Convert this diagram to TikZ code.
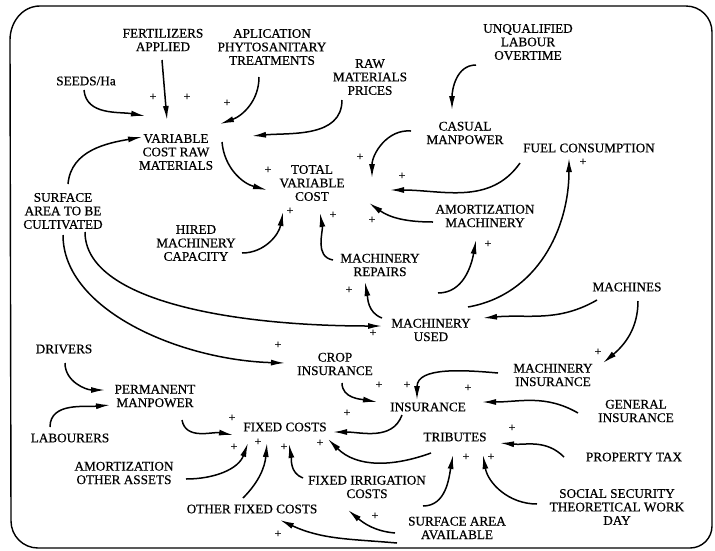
\documentclass[tikz,border=0pt]{standalone}
\usepackage{fontspec}
\setmainfont[FakeBold=0.6,BoldFont={Liberation Serif}]{Liberation Serif}
\newfontfamily\labfont[FakeBold=0.6]{Liberation Serif}
\usetikzlibrary{arrows.meta,calc}
\begin{document}
\begin{tikzpicture}[x=1pt,y=1pt,
  lab/.style={align=center,inner sep=0pt,font=\labfont\fontsize{13.2}{13.5}\selectfont},
  arr/.style={line width=1.5pt,-{Latex[length=14pt,width=6pt]}},
  pl/.style={inner sep=0pt,font=\labfont\fontsize{12}{12}\selectfont}]
\useasboundingbox (0,0) rectangle (715,-550);
% frame
\draw[line width=1.4pt] (10,-40) to[out=90,in=180] (40,-6) -- (686,-6)
  to[out=0,in=90] (712,-32) -- (712,-526) to[out=-90,in=0] (690,-548)
  -- (38,-548) to[out=180,in=-90] (11,-521) -- cycle;
% nodes
\node[lab] (seeds) at (86,-81) {SEEDS/Ha};
\node[lab] (fert) at (163,-40) {FERTILIZERS\\APPLIED};
\node[lab] (apl) at (272,-47) {APLICATION\\PHYTOSANITARY\\TREATMENTS};
\node[lab] (rawp) at (370,-77) {RAW\\MATERIALS\\PRICES};
\node[lab] (unq) at (528,-42) {UNQUALIFIED\\LABOUR\\OVERTIME};
\node[lab] (casual) at (465,-133) {CASUAL\\MANPOWER};
\node[lab] (fuel) at (589,-148) {FUEL CONSUMPTION};
\node[lab] (vcrm) at (176,-152) {VARIABLE\\COST RAW\\MATERIALS};
\node[lab] (tvc) at (312,-183) {TOTAL\\VARIABLE\\COST};
\node[lab] (sac) at (63,-211) {SURFACE\\AREA TO BE\\CULTIVATED};
\node[lab] (hired) at (196,-243) {HIRED\\MACHINERY\\CAPACITY};
\node[lab] (amort) at (485,-216) {AMORTIZATION\\MACHINERY};
\node[lab] (repairs) at (380,-265) {MACHINERY\\REPAIRS};
\node[lab] (used) at (431,-330) {MACHINERY\\USED};
\node[lab] (machines) at (627,-287) {MACHINES};
\node[lab] (drivers) at (64,-349) {DRIVERS};
\node[lab] (crop) at (335,-364) {CROP\\INSURANCE};
\node[lab] (machins) at (553,-375) {MACHINERY\\INSURANCE};
\node[lab] (perm) at (155,-396) {PERMANENT\\MANPOWER};
\node[lab] (ins) at (428,-407) {INSURANCE};
\node[lab] (general) at (636,-411) {GENERAL\\INSURANCE};
\node[lab] (labourers) at (70,-438) {LABOURERS};
\node[lab] (fixed) at (285,-427) {FIXED COSTS};
\node[lab] (tributes) at (455,-437) {TRIBUTES};
\node[lab] (property) at (634,-457) {PROPERTY TAX};
\node[lab] (aoa) at (124,-473) {AMORTIZATION\\OTHER ASSETS};
\node[lab] (fic) at (367,-487) {FIXED IRRIGATION\\COSTS};
\node[lab] (ss) at (617,-507) {SOCIAL SECURITY\\THEORETICAL WORK\\DAY};
\node[lab] (ofc) at (252,-509) {OTHER FIXED COSTS};
\node[lab] (saa) at (457,-528) {SURFACE AREA\\AVAILABLE};
% connectors
\draw[arr] ($(seeds)+(-2,-9)$) to[out=-85,in=170] ($(vcrm)+(-31,36)$);
\draw[arr] ($(fert)+(-1,-20)$) -- ($(vcrm)+(-9,32)$);
\draw[arr] ($(apl)+(-13,-30)$) to[out=-90,in=20] ($(vcrm)+(44,28)$);
\draw[arr] ($(rawp)+(-28,-23)$) to[out=-90,in=5] ($(vcrm)+(76,16)$);
\draw[arr] ($(sac)+(5,27)$) to[out=85,in=190] ($(vcrm)+(-34,15)$);
\draw[arr] ($(vcrm)+(46,10)$) to[out=-85,in=165] ($(tvc)+(-45,-7)$);
\draw[arr] ($(casual)+(-54,2)$) to[out=175,in=90] ($(tvc)+(60,5)$);
\draw[arr] ($(fuel)+(-69,-15)$) to[out=-125,in=0] ($(tvc)+(78,-7)$);
\draw[arr] ($(amort)+(-52,-6)$) to[out=180,in=-35] ($(tvc)+(57,-20)$);
\draw[arr] ($(hired)+(46,-10)$) to[out=0,in=-100] ($(tvc)+(-29,-29)$);
\draw[arr] ($(repairs)+(-47,5)$) to[out=170,in=-80] ($(tvc)+(8,-30)$);
\draw[arr] ($(unq)+(-52,-23)$) to[out=180,in=90] ($(casual)+(-13,23)$);
\draw[arr] ($(used)+(-49,12)$) to[out=160,in=-80] ($(repairs)+(-15,-17)$);
\draw[arr] ($(used)+(7,37)$) to[out=0,in=-100] ($(amort)+(-9,-24)$);
\draw[arr] ($(used)+(37,23)$) to[out=10,in=-90] ($(fuel)+(-20,-10)$);
\draw[arr] ($(machines)+(-30,-13)$) to[out=-150,in=5] ($(used)+(52,12)$);
\draw[arr] ($(sac)+(22,-21)$) .. controls +(0,-68) and +(-152,0) .. ($(used)+(-49,4)$);
\draw[arr] ($(sac)+(0,-24)$) .. controls +(0,-75) and +(-105,3) .. ($(crop)+(-50,1)$);
\draw[arr] ($(machines)+(11,-14)$) to[out=-90,in=40] ($(machins)+(50,12)$);
\draw[arr] ($(machins)+(-55,2)$) to[out=175,in=90] ($(ins)+(-11,7)$);
\draw[arr] ($(crop)+(7,-19)$) to[out=-90,in=170] ($(ins)+(-51,5)$);
\draw[arr] ($(general)+(-58,-2)$) to[out=150,in=0] ($(ins)+(54,5)$);
\draw[arr] ($(ins)+(-26,-8)$) to[out=-110,in=0] ($(fixed)+(48,-5)$);
\draw[arr] ($(tributes)+(-24,-16)$) to[out=-160,in=-45] ($(fixed)+(43,-12)$);
\draw[arr] ($(property)+(-70,0)$) to[out=135,in=-5] ($(tributes)+(45,-6)$);
\draw[arr] ($(saa)+(-34,22)$) to[out=0,in=-100] ($(tributes)+(-2,-18)$);
\draw[arr] ($(ss)+(-80,3)$) to[out=180,in=-80] ($(tributes)+(28,-18)$);
\draw[arr] ($(perm)+(27,-24)$) to[out=-80,in=170] ($(fixed)+(-52,-8)$);
\draw[arr] ($(drivers)+(1,-14)$) to[out=-90,in=180] ($(perm)+(-50,6)$);
\draw[arr] ($(labourers)+(-20,11)$) to[out=90,in=185] ($(perm)+(-45,-9)$);
\draw[arr] ($(aoa)+(62,-6)$) to[out=0,in=-110] ($(fixed)+(-37,-16)$);
\draw[arr] ($(ofc)+(-9,11)$) to[out=45,in=-95] ($(fixed)+(-18,-16)$);
\draw[arr] ($(fic)+(-64,9)$) to[out=160,in=-80] ($(fixed)+(4,-17)$);
\draw[arr] ($(saa)+(-62,-5)$) to[out=175,in=-40] ($(fic)+(-19,-23)$);
\draw[arr] ($(saa)+(-60,-15)$) to[out=175,in=-25] ($(ofc)+(28,-11)$);
% polarity signs
\foreach \x/\y [count=\i] in {153/97,187/97,227/103,268/170,360/157,402/176,372/220,290/211,333/215,
  349/290,488/244,583/162,373/333,278/345,598/352,407/385,379/385,468/388,347/413,320/443,
  512/428,466/457,491/457,232/418,234/447,258/442,284/447,375/516,278/534}
  \node[pl] (p\i) at (\x,-\y) {+};
\end{tikzpicture}
\end{document}
